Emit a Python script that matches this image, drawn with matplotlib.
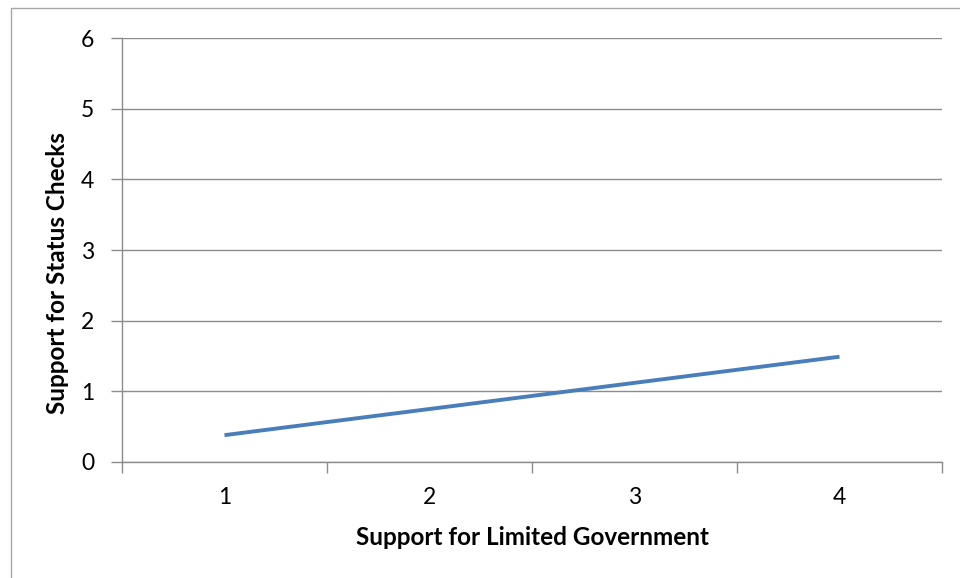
import matplotlib.pyplot as plt
from matplotlib.patches import Rectangle

# limited-government score vs predicted support for status checks
categories = ["1", "2", "3", "4"]
status_checks = [0.38, 0.75, 1.12, 1.49]
y_ticks = [0, 1, 2, 3, 4, 5, 6]

plt.rcParams['font.family'] = ['Lato', 'DejaVu Sans']

fig = plt.figure(figsize=(9.6, 5.78), dpi=100)
ax = fig.add_axes([122 / 960, 1 - 462 / 578, 820 / 960, 424 / 578])

grey = "#8c8c8c"
xs = list(range(1, len(categories) + 1))
ax.plot(xs, status_checks, color="#4a7ebb", linewidth=2.8, solid_capstyle="butt")

ax.set_xlim(0.5, len(categories) + 0.5)
ax.set_ylim(0, 6)
ax.set_yticks(y_ticks)
ax.set_yticklabels([str(v) for v in y_ticks], fontsize=16.5)
ax.set_xticks(xs)
ax.set_xticklabels(categories, fontsize=16.5)
ax.set_xticks([x + 0.5 for x in range(len(categories) + 1)], minor=True)
ax.tick_params(axis="x", which="major", length=0, pad=18)
ax.tick_params(axis="x", which="minor", length=8, color=grey, width=1)
ax.tick_params(axis="y", length=8, color=grey, width=1, pad=12)

ax.yaxis.grid(True, color=grey, linewidth=1)
ax.set_axisbelow(True)
for side in ["top", "right"]:
    ax.spines[side].set_visible(False)
for side in ["left", "bottom"]:
    ax.spines[side].set_color(grey)
    ax.spines[side].set_linewidth(1)

ax.set_xlabel("Support for Limited Government", fontsize=17.5, fontweight="bold")
ax.set_ylabel("Support for Status Checks", fontsize=17.5, fontweight="bold")
ax.xaxis.set_label_coords(0.5, -0.15)
ax.yaxis.set_label_coords(-0.065, 0.445)

# chart frame
fig.patches.append(Rectangle((10.5 / 960, -0.1), 1.0, 1.1 - 8.5 / 578,
                             transform=fig.transFigure, fill=False,
                             edgecolor="#a6a6a6", linewidth=1))

fig.savefig("out.png", dpi=100)
